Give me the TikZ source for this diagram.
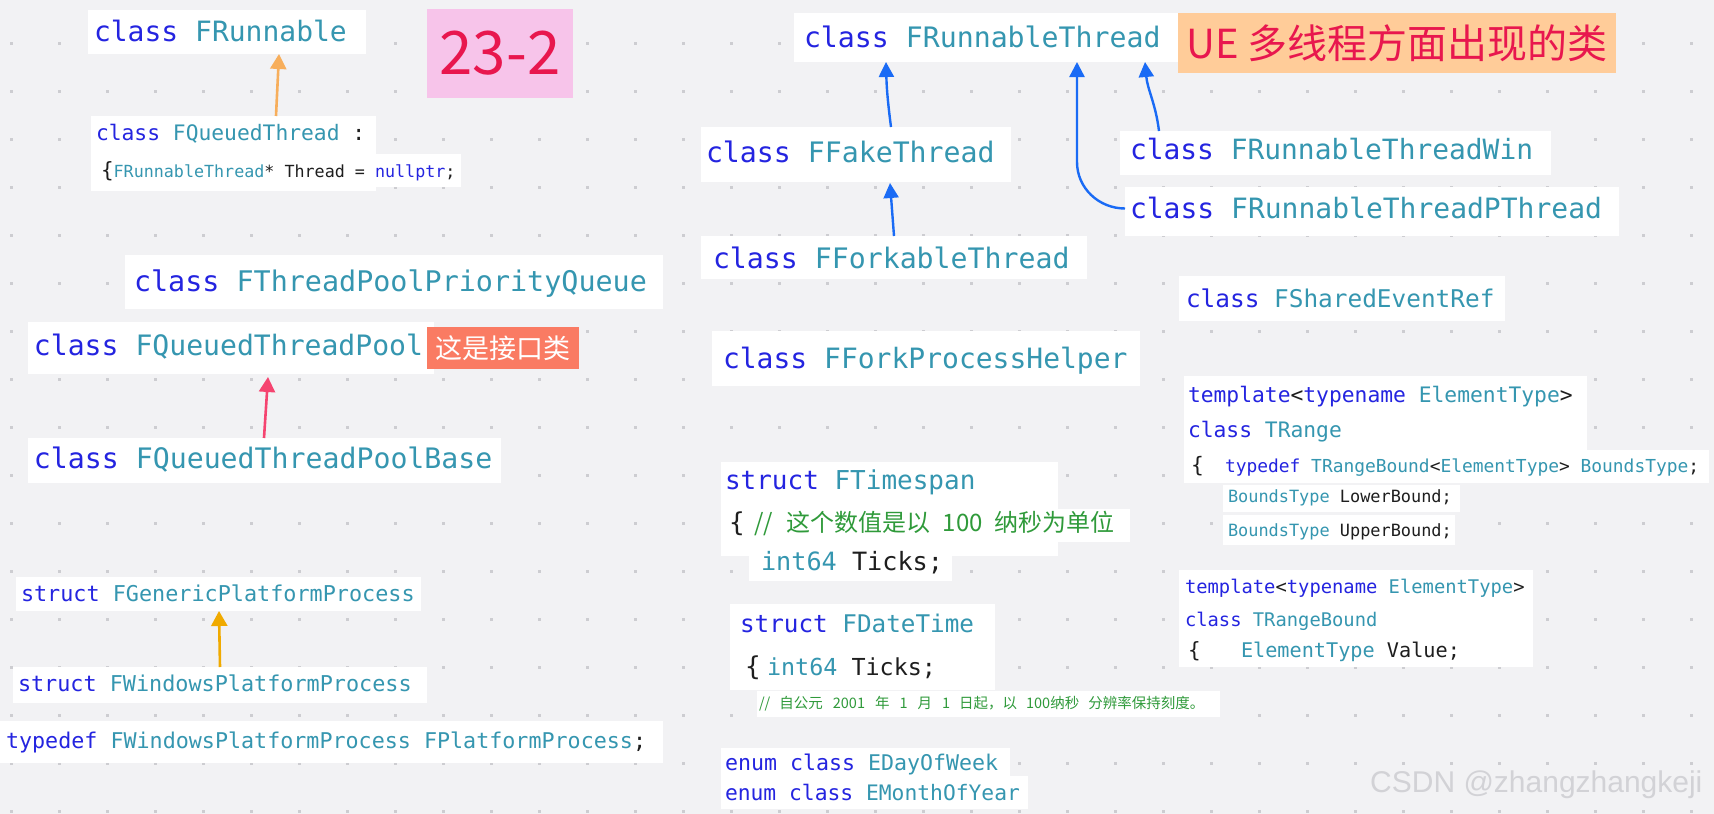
\documentclass[tikz,border=0pt]{standalone}
\usepackage{fontspec}
\newfontfamily\mono{DejaVu Sans Mono}
\newfontfamily\cjk{Noto Sans CJK SC}
\newfontfamily\wmfont{Liberation Sans}
\usetikzlibrary{arrows.meta}
\definecolor{bgc}{HTML}{F2F2F4}
\definecolor{dotc}{HTML}{CDCDD1}
\definecolor{kwc}{HTML}{2424E0}
\definecolor{tyc}{HTML}{3596B0}
\definecolor{txc}{HTML}{1E1E1E}
\definecolor{cmc}{HTML}{2F9A3A}
\definecolor{orA}{HTML}{F7AE5B}
\definecolor{pkA}{HTML}{F54470}
\definecolor{ylA}{HTML}{F0AA00}
\definecolor{blA}{HTML}{1A6BF5}
\definecolor{pinkbg}{HTML}{F7C4EA}
\definecolor{redtx}{HTML}{E8174E}
\definecolor{uebg}{HTML}{FFCC99}
\definecolor{coral}{HTML}{FA7B63}
\definecolor{wmc}{HTML}{D2D2D6}
\newcommand\fsz[1]{\fontsize{#1}{#1}\selectfont}
\newcommand\ckw[1]{\textcolor{kwc}{#1}}
\newcommand\cty[1]{\textcolor{tyc}{#1}}
\newcommand\ctx[1]{\textcolor{txc}{#1}}
\newcommand\ccm[1]{\textcolor{cmc}{#1}}
\newcommand\wbox[5]{\node[wbox, minimum width={#4-#2}, minimum height={#5-#3}] (#1) at (#2,#3) {};}
\tikzset{
  wbox/.style={fill=white, inner sep=0pt, outer sep=0pt, anchor=north west},
  code/.style={anchor=base west, inner sep=0pt, outer sep=0pt, font=\mono, text=txc},
  tagbox/.style={inner sep=0pt, outer sep=0pt, anchor=north west},
  arrO/.style={draw=orA, line width=2.6pt, -{Triangle[width=16pt,length=15pt]}},
  arrP/.style={draw=pkA, line width=2.6pt, -{Triangle[width=16pt,length=15pt]}},
  arrY/.style={draw=ylA, line width=2.6pt, -{Triangle[width=16pt,length=15pt]}},
  arrB/.style={draw=blA, line width=2.4pt, -{Triangle[width=15pt,length=15pt]}},
  arrBr/.style={draw=blA, line width=2.4pt, {Triangle[width=15pt,length=15pt]}-},
}
\begin{document}
\begin{tikzpicture}[x=1pt,y=-1pt]
\useasboundingbox (0,0) rectangle (1714,814);
\fill[bgc] (0,0) rectangle (1714,814);
\foreach \i in {0,...,35}{
  \foreach \j in {0,...,16}{
    \fill[dotc] ({10+48*\i},{42+48*\j}) rectangle ++(2.5,2.5);
  }
}
% ---------- white boxes ----------
\wbox{frunB}{88}{10}{366}{54}
\wbox{qtB1}{91}{116}{376}{191}
\wbox{qtB2}{91}{154}{461}{187}
\wbox{pqB}{125}{255}{663}{309}
\wbox{qtpB}{28}{322}{434}{374}
\wbox{qtpbB}{28}{438}{501}{483}
\wbox{gppB}{16}{577}{421}{611}
\wbox{wppB}{13}{667}{427}{703}
\wbox{tdB}{0}{721}{663}{763}
\wbox{frtB}{794}{13}{1178}{62}
\wbox{fakeB}{701}{127}{1011}{182}
\wbox{winB}{1120}{131}{1551}{175}
\wbox{pthB}{1125}{187}{1619}{236}
\wbox{forkB}{701}{236}{1087}{279}
\wbox{helperB}{712}{331}{1140}{386}
\wbox{tsB1}{721}{462}{1058}{556}
\wbox{tsB2}{721}{509}{1130}{542}
\wbox{tsB3}{749}{544}{952}{581}
\wbox{dtB1}{730}{604}{995}{690}
\wbox{dtB2}{757}{691}{1220}{717}
\wbox{enB1}{721}{748}{1010}{776}
\wbox{enB2}{721}{776}{1028}{809}
\wbox{serB}{1179}{276}{1505}{321}
\wbox{trB1}{1184}{376}{1587}{483}
\wbox{trB2}{1184}{450}{1709}{483}
\wbox{trB3}{1223}{485}{1460}{512}
\wbox{trB4}{1223}{515}{1455}{545}
\wbox{tbB}{1179}{570}{1533}{667}
% ---------- tags ----------
\node[tagbox, fill=pinkbg, minimum width=146pt, minimum height=89pt, font={\cjk\fsz{60}}, text=redtx] (tag232) at (427,9) {23-2};
\node[tagbox, fill=uebg, minimum width=438pt, minimum height=60pt, font={\cjk\fsz{40}}, text=redtx] (ueT) at (1178,13) {UE 多线程方面出现的类};
\node[tagbox, fill=coral, minimum width=152pt, minimum height=42pt, font={\cjk\fsz{27}}, text=white] (ifT) at (427,327) {这是接口类};
% ---------- code texts ----------
\node[code] (frunT) at (94,41) {\fsz{28}\ckw{class} \cty{FRunnable}};
\node[code] (qtT1) at (96,140) {\fsz{21.3}\ckw{class} \cty{FQueuedThread} \ctx{:}};
\node[code] (qtT2) at (101,177) {\fsz{16.7}{\fsz{21}\ctx{\{}}\cty{FRunnableThread}\ctx{* Thread = }\ckw{nullptr}\ctx{;}};
\node[code] (pqT) at (134,291) {\fsz{28.4}\ckw{class} \cty{FThreadPoolPriorityQueue}};
\node[code] (qtpT) at (34,355) {\fsz{28.1}\ckw{class} \cty{FQueuedThreadPool}};
\node[code] (qtpbT) at (34,468) {\fsz{28.2}\ckw{class} \cty{FQueuedThreadPoolBase}};
\node[code] (gppT) at (21,601) {\fsz{21.8}\ckw{struct} \cty{FGenericPlatformProcess}};
\node[code] (wppT) at (18,691) {\fsz{21.8}\ckw{struct} \cty{FWindowsPlatformProcess}};
\node[code] (tdT) at (6,748) {\fsz{21.7}\ckw{typedef} \cty{FWindowsPlatformProcess FPlatformProcess}\ctx{;}};
\node[code] (frtT) at (804,47) {\fsz{28.2}\ckw{class} \cty{FRunnableThread}};
\node[code] (fakeT) at (706,162) {\fsz{28.2}\ckw{class} \cty{FFakeThread}};
\node[code] (winT) at (1130,159) {\fsz{27.9}\ckw{class} \cty{FRunnableThreadWin}};
\node[code] (pthT) at (1130,218) {\fsz{28}\ckw{class} \cty{FRunnableThreadPThread}};
\node[code] (forkT) at (713,268) {\fsz{28.2}\ckw{class} \cty{FForkableThread}};
\node[code] (helperT) at (723,368) {\fsz{28}\ckw{class} \cty{FForkProcessHelper}};
\node[code] (tsT1) at (725,489) {\fsz{26}\ckw{struct} \cty{FTimespan}};
\node[code] (tsBr) at (729,531) {\fsz{26}\ctx{\{}};
\node[code, font=\cjk] (tsCm) at (754,531) {\fsz{24}\ccm{//\hspace{14pt}这个数值是以\hspace{12pt}100\hspace{12pt}纳秒为单位}};
\node[code] (tsT3) at (761,570) {\fsz{25.2}\cty{int64} \ctx{Ticks;}};
\node[code] (dtT1) at (740,632) {\fsz{24.3}\ckw{struct} \cty{FDateTime}};
\node[code] (dtBr) at (745,675) {\fsz{26}\ctx{\{}};
\node[code] (dtT2) at (767,675) {\fsz{23.4}\cty{int64} \ctx{Ticks;}};
\node[code, font=\cjk] (dtCm) at (759,708) {\fsz{14.5}\ccm{//\hspace{9pt}自公元\hspace{10pt}2001\hspace{10pt}年\hspace{10pt}1\hspace{10pt}月\hspace{10pt}1\hspace{9pt}日起，以\hspace{9pt}100纳秒\hspace{9pt}分辨率保持刻度。}};
\node[code] (enT1) at (725,770) {\fsz{21.6}\ckw{enum class} \cty{EDayOfWeek}};
\node[code] (enT2) at (725,800) {\fsz{21.3}\ckw{enum class} \cty{EMonthOfYear}};
\node[code] (serT) at (1186,307) {\fsz{24.4}\ckw{class} \cty{FSharedEventRef}};
\node[code] (trT1) at (1188,402) {\fsz{21.3}\ckw{template}\ctx{<}\ckw{typename} \cty{ElementType}\ctx{>}};
\node[code] (trT2) at (1188,437) {\fsz{21.3}\ckw{class} \cty{TRange}};
\node[code] (trBr) at (1191,472) {\fsz{21.3}\ctx{\{}};
\node[code] (trT3) at (1225,472) {\fsz{17.9}\ckw{typedef} \cty{TRangeBound}\ctx{<}\cty{ElementType}\ctx{>} \cty{BoundsType}\ctx{;}};
\node[code] (trT4) at (1228,502) {\fsz{16.9}\cty{BoundsType} \ctx{LowerBound;}};
\node[code] (trT5) at (1228,536) {\fsz{16.9}\cty{BoundsType} \ctx{UpperBound;}};
\node[code] (tbT1) at (1185,593) {\fsz{18.8}\ckw{template}\ctx{<}\ckw{typename} \cty{ElementType}\ctx{>}};
\node[code] (tbT2) at (1185,626) {\fsz{18.8}\ckw{class} \cty{TRangeBound}};
\node[code] (tbBr) at (1188,657) {\fsz{21}\ctx{\{}};
\node[code] (tbT3) at (1241,657) {\fsz{20.2}\cty{ElementType} \ctx{Value;}};
\node[anchor=base west, inner sep=0pt, font={\wmfont\fsz{30}}, text=wmc] (wm) at (1370,792) {CSDN @zhangzhangkeji};
% ---------- arrows ----------
\draw[arrO] ([xshift=185pt]qtB1.north west) -- ([xshift=191pt]frunB.south west);
\draw[arrP] ([xshift=236pt]qtpbB.north west) -- ([xshift=240pt,yshift=-3pt]qtpB.south west);
\draw[arrY] ([xshift=207pt]wppB.north west) -- ([xshift=203pt]gppB.south west);
\draw[arrB] ([xshift=190pt]fakeB.north west) to[bend left=3] ([xshift=92pt]frtB.south west);
\draw[arrB] ([xshift=193pt]forkB.north west) -- ([xshift=189pt,yshift=-1pt]fakeB.south west);
\draw[arrB] ([xshift=39pt]winB.north west) to[out=97,in=-85] ([xshift=351pt]frtB.south west);
\draw[arrBr] ([xshift=283pt]frtB.south west) -- ++(0,100) to[out=-90,in=180] ([yshift=3pt]pthB.west);
\end{tikzpicture}
\end{document}
